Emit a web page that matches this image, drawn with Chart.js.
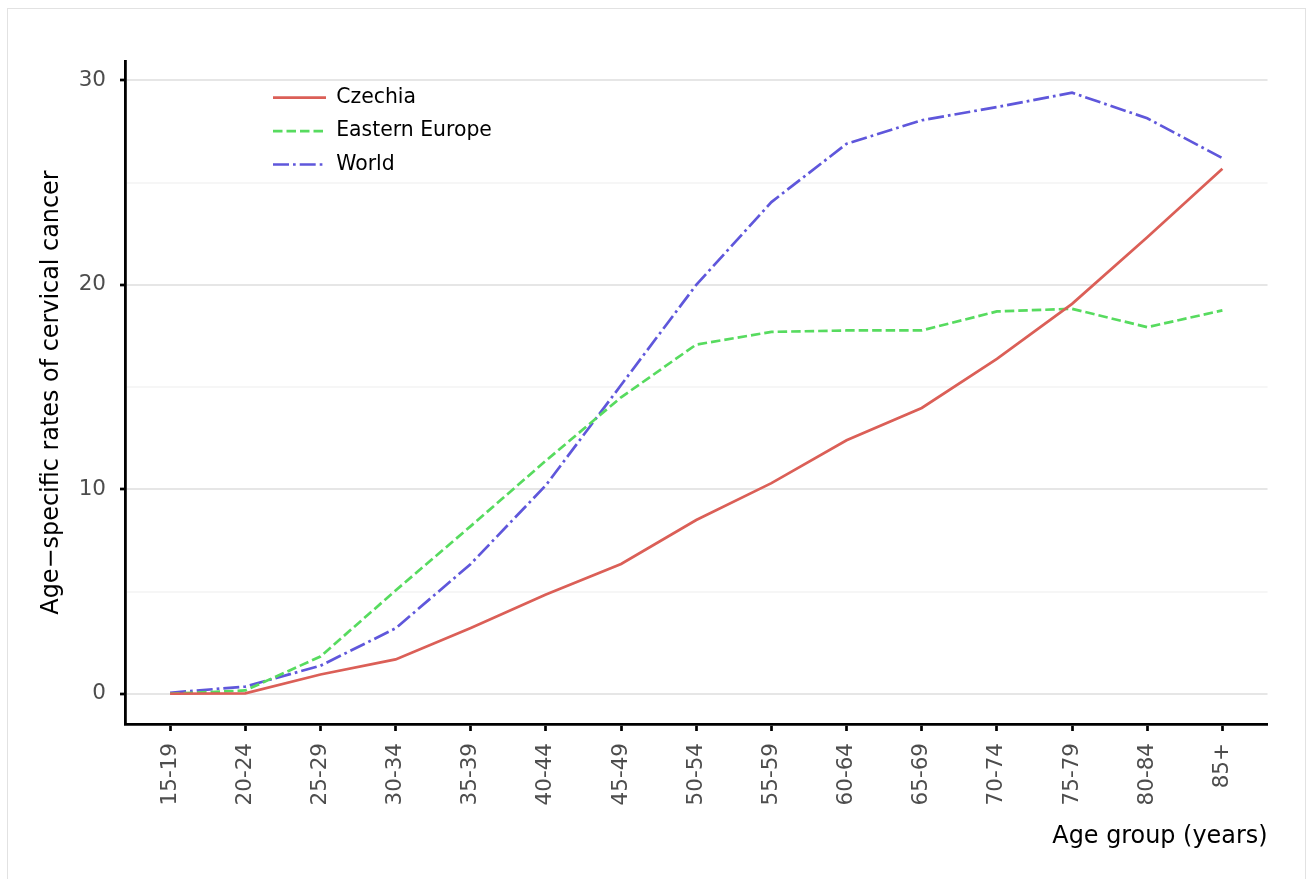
<!DOCTYPE html>
<html>
<head>
<meta charset="utf-8">
<script src="https://cdn.jsdelivr.net/npm/chart.js@4"></script>
<style>
  html, body { margin: 0; padding: 0; background: #fff; }
  #wrap { position: relative; width: 1309px; height: 879px; overflow: hidden; background: #fff; }
  #frame { position: absolute; left: 7px; top: 8px; width: 1299px; height: 900px; border: 1px solid #e2e2e2; box-sizing: border-box; }
  #c { position: absolute; left: 0; top: 0; }
</style>
</head>
<body>
<div id="wrap">
  <div id="frame"></div>
  <canvas id="c" width="1309" height="879"></canvas>
</div>
<script>
const ageGroups = ["15-19","20-24","25-29","30-34","35-39","40-44","45-49","50-54","55-59","60-64","65-69","70-74","75-79","80-84","85+"];
const czechia      = [0.0, 0.02, 0.94, 1.68, 3.22, 4.85, 6.35, 8.5, 10.3, 12.4, 13.98, 16.38, 19.07, 22.33, 25.68];
const easternEurope = [0.0, 0.16, 1.82, 5.05, 8.2, 11.4, 14.5, 17.08, 17.7, 17.77, 17.77, 18.7, 18.83, 17.93, 18.75];
const world        = [0.05, 0.35, 1.37, 3.2, 6.35, 10.2, 15.1, 20.0, 24.05, 26.9, 28.05, 28.7, 29.4, 28.15, 26.2];
const yMajorTicks = [0, 10, 20, 30];
const yMinorTicks = [5, 15, 25];
const seriesNames = ["Czechia", "Eastern Europe", "World"];

const toPoints = arr => arr.map((v, i) => ({ x: i, y: v }));
const FONT = "'DejaVu Sans', 'Liberation Sans', sans-serif";

const legendPos = {
  id: 'legendPos',
  afterLayout(chart) {
    const lg = chart.legend;
    if (!lg) return;
    const w = lg.width, h = lg.height;
    lg.left = 260; lg.top = 74.5;
    lg.right = lg.left + w; lg.bottom = lg.top + h;
  }
};

const LW = 2.7;

new Chart(document.getElementById('c'), {
  type: 'line',
  data: {
    datasets: [
      { label: seriesNames[0], data: toPoints(czechia), borderColor: '#db5f57', backgroundColor: '#db5f57', borderWidth: LW, pointRadius: 0, tension: 0, fill: false },
      { label: seriesNames[1], data: toPoints(easternEurope), borderColor: '#57db5f', backgroundColor: '#57db5f', borderWidth: LW, borderDash: [9.5, 4], pointRadius: 0, tension: 0, fill: false },
      { label: seriesNames[2], data: toPoints(world), borderColor: '#5f57db', backgroundColor: '#5f57db', borderWidth: LW, borderDash: [16, 4, 2.7, 4], pointRadius: 0, tension: 0, fill: false }
    ]
  },
  options: {
    responsive: false,
    animation: false,
    devicePixelRatio: 1,
    layout: { padding: { top: 61, right: 41.5, left: 0, bottom: 0 } },
    plugins: {
      tooltip: { enabled: false },
      legend: {
        position: 'chartArea',
        align: 'start',
        labels: {
          usePointStyle: true,
          pointStyle: 'line',
          pointStyleWidth: 53,
          boxHeight: 20,
          padding: 13,
          color: '#000',
          font: { family: FONT, size: 20.4 },
          generateLabels(chart) {
            return chart.data.datasets.map((ds, i) => ({
              text: ds.label,
              strokeStyle: ds.borderColor,
              fillStyle: ds.borderColor,
              lineWidth: LW,
              lineDash: ds.borderDash || [],
              pointStyle: 'line',
              datasetIndex: i,
              hidden: false
            }));
          }
        }
      }
    },
    scales: {
      x: {
        type: 'linear',
        min: -0.6,
        max: 14.6,
        afterFit(scale) { scale.height = 155; },
        afterBuildTicks(scale) { scale.ticks = ageGroups.map((_, i) => ({ value: i })); },
        grid: { display: true, drawOnChartArea: false, drawTicks: true, tickLength: 7, tickWidth: 2.7, tickColor: '#000' },
        border: { display: true, color: '#000', width: 2.8 },
        ticks: {
          autoSkip: false,
          minRotation: 90,
          maxRotation: 90,
          padding: 12,
          color: '#4d4d4d',
          font: { family: FONT, size: 21.5 },
          callback: v => ageGroups[v] !== undefined ? ageGroups[v] : ''
        },
        title: {
          display: true,
          text: 'Age group (years)',
          align: 'end',
          color: '#000',
          font: { family: FONT, size: 23.9 },
          padding: { top: 0, bottom: 28 }
        }
      },
      y: {
        type: 'linear',
        min: -1.48,
        max: 30.95,
        afterFit(scale) { scale.width = 125; },
        afterBuildTicks(scale) {
          scale.ticks = yMajorTicks.concat(yMinorTicks).sort((a, b) => a - b).map(v => ({ value: v }));
        },
        grid: {
          display: true,
          drawOnChartArea: true,
          drawTicks: true,
          tickLength: 5,
          tickWidth: 2.7,
          lineWidth: 2,
          color: ctx => (ctx.tick && yMajorTicks.includes(ctx.tick.value)) ? '#e6e6e6' : '#f6f6f6',
          tickColor: ctx => (ctx.tick && yMajorTicks.includes(ctx.tick.value)) ? '#000' : 'rgba(0,0,0,0)'
        },
        border: { display: true, color: '#000', width: 2.8 },
        ticks: {
          padding: 14,
          color: '#4d4d4d',
          font: { family: FONT, size: 21.5 },
          callback: v => yMajorTicks.includes(v) ? String(v) : ''
        },
        title: {
          display: true,
          text: 'Age\u2212specific rates of cervical cancer',
          color: '#000',
          font: { family: FONT, size: 23.9 },
          padding: { top: 37, bottom: 0 }
        }
      }
    }
  },
  plugins: [legendPos]
});
</script>
</body>
</html>
